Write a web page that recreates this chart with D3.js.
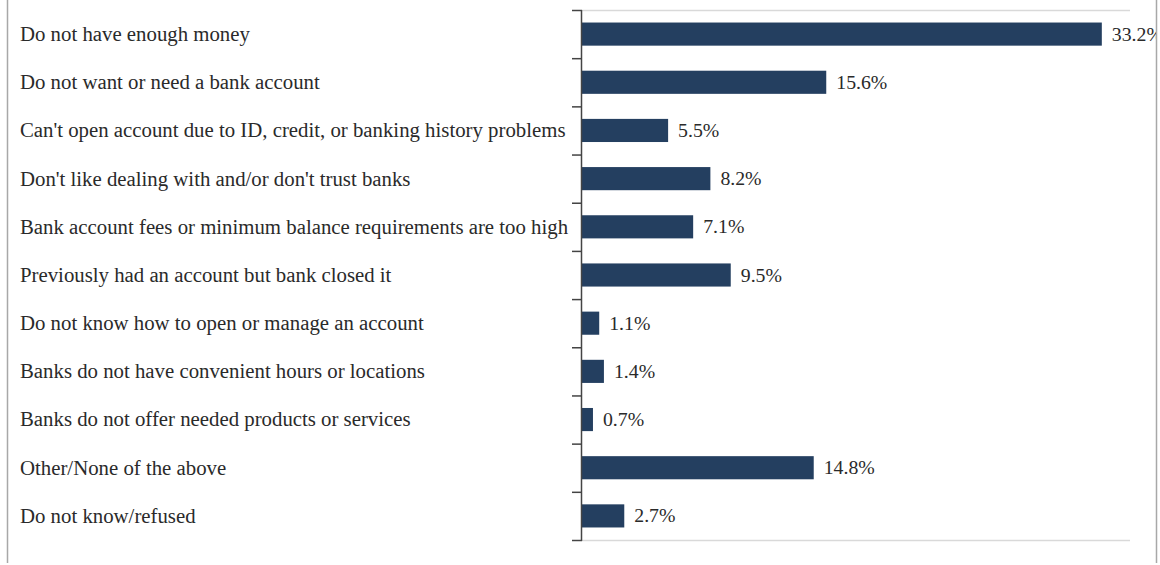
<!DOCTYPE html>
<html><head><meta charset="utf-8">
<script src="https://cdn.jsdelivr.net/npm/d3@7"></script>
<style>html,body{margin:0;padding:0;background:#fff;}svg{display:block;}</style>
</head><body>
<svg id="c" width="1160" height="565"></svg>
<script>
const categories = [
  "Do not have enough money",
  "Do not want or need a bank account",
  "Can't open account due to ID, credit, or banking history problems",
  "Don't like dealing with and/or don't trust banks",
  "Bank account fees or minimum balance requirements are too high",
  "Previously had an account but bank closed it",
  "Do not know how to open or manage an account",
  "Banks do not have convenient hours or locations",
  "Banks do not offer needed products or services",
  "Other/None of the above",
  "Do not know/refused"
];
const values = [33.2, 15.6, 5.5, 8.2, 7.1, 9.5, 1.1, 1.4, 0.7, 14.8, 2.7];
const valueLabels = ["33.2%","15.6%","5.5%","8.2%","7.1%","9.5%","1.1%","1.4%","0.7%","14.8%","2.7%"];

(function(){
const svg = d3.select("#c");
const pLeft = 582, pRight = 1130, pTop = 10, pBottom = 540;
const x = d3.scaleLinear().domain([0, 35]).range([pLeft, pRight]);
const y = d3.scaleBand().domain(categories).range([pTop, pBottom]).paddingInner(0.52).paddingOuter(0.26);
const font = "'Liberation Serif', 'DejaVu Serif', serif";

svg.append("line").attr("x1",7.5).attr("x2",7.5).attr("y1",0).attr("y2",563).attr("stroke","#a8a8a8").attr("stroke-width",1.5);
svg.append("line").attr("x1",1156.5).attr("x2",1156.5).attr("y1",0).attr("y2",563).attr("stroke","#a8a8a8").attr("stroke-width",1.5);

svg.append("line").attr("x1",pLeft).attr("x2",pRight).attr("y1",pTop+0.5).attr("y2",pTop+0.5).attr("stroke","#d9d9d9").attr("stroke-width",1.5);
svg.append("line").attr("x1",pLeft).attr("x2",pRight).attr("y1",pBottom+0.5).attr("y2",pBottom+0.5).attr("stroke","#d9d9d9").attr("stroke-width",1.5);

svg.append("g").selectAll("rect").data(values).join("rect")
  .attr("x", x(0)).attr("y", (d,i)=>y(categories[i]))
  .attr("width", d=>x(d)-x(0)).attr("height", y.bandwidth())
  .attr("fill", "#243f60");

const step = (pBottom-pTop)/categories.length;
const tickVals = d3.range(categories.length+1).map(i=>pTop+i*step);
const ax = svg.append("g");
ax.append("line").attr("x1",pLeft-0.5).attr("x2",pLeft-0.5).attr("y1",pTop).attr("y2",pBottom+1).attr("stroke","#444").attr("stroke-width",1.5);
ax.selectAll("line.t").data(tickVals).join("line").attr("class","t")
  .attr("x1",pLeft-10).attr("x2",pLeft).attr("y1",d=>d+0.5).attr("y2",d=>d+0.5)
  .attr("stroke","#444").attr("stroke-width",1.5);

svg.append("g").selectAll("text").data(categories).join("text")
  .attr("x", 20).attr("y", d=>y(d)+y.bandwidth()/2)
  .attr("dy","0.33em")
  .attr("font-family", font).attr("font-size", 20.8).attr("fill","#2a2a2a")
  .text(d=>d);

svg.append("clipPath").attr("id","clip").append("rect").attr("x",0).attr("y",0).attr("width",1156).attr("height",565);
svg.append("g").attr("clip-path","url(#clip)").selectAll("text").data(values).join("text")
  .attr("x", d=>x(d)+10).attr("y", (d,i)=>y(categories[i])+y.bandwidth()/2)
  .attr("dy","0.33em")
  .attr("font-family", font).attr("font-size", 19.8).attr("fill","#2a2a2a")
  .text((d,i)=>valueLabels[i]);
})();
</script>
</body></html>
